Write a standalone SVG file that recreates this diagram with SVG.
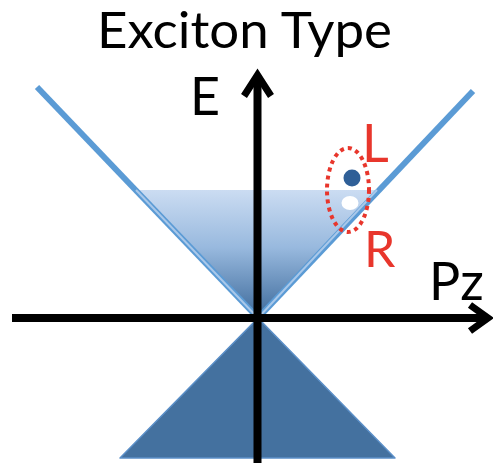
<svg xmlns="http://www.w3.org/2000/svg" width="493" height="463" viewBox="0 0 493 463">
  <defs>
    <linearGradient id="coneGrad" x1="0" y1="190" x2="0" y2="318" gradientUnits="userSpaceOnUse">
      <stop offset="0" stop-color="#cbdcf2"/>
      <stop offset="0.45" stop-color="#98b9de"/>
      <stop offset="1" stop-color="#3d6a9b"/>
    </linearGradient>
  </defs>
  <style>
    .lbl { font-family: Lato, "Open Sans", "Liberation Sans", sans-serif; fill: #000; }
    .red { font-family: Lato, "Open Sans", "Liberation Sans", sans-serif; fill: #e8362c; }
    .band { stroke: #5b9bd5; stroke-width: 6; stroke-linecap: butt; fill: none; }
    .axis { stroke: #000; stroke-width: 8; fill: none; }
    .head { stroke: #000; stroke-width: 7; fill: none; stroke-linejoin: miter; stroke-linecap: butt; }
  </style>
  <rect width="493" height="463" fill="#fff"/>

  <g id="title">
    <text class="lbl" x="97" y="48" font-size="50" textLength="295" lengthAdjust="spacingAndGlyphs">Exciton Type</text>
  </g>

  <g id="conduction-cone">
    <polygon points="136,190 377,190 258,318" fill="url(#coneGrad)"/>
    <line class="band" x1="37" y1="87" x2="258" y2="318"/>
    <line class="band" x1="473" y1="91" x2="258" y2="318"/>
    <line x1="136" y1="190" x2="258" y2="318" stroke="#a9c8ea" stroke-width="2"/>
    <line x1="377" y1="190" x2="258" y2="318" stroke="#a9c8ea" stroke-width="2"/>
  </g>

  <g id="valence-cone">
    <polygon points="258,318 120,458 395,458" fill="#44719f" stroke="#5b8fc8" stroke-width="1.5" stroke-linejoin="round"/>
  </g>

  <g id="axes">
    <line class="axis" x1="257.5" y1="76" x2="257.5" y2="463"/>
    <polyline class="head" points="244,96 257.5,75 271,96"/>
    <line class="axis" x1="12" y1="318" x2="486" y2="318"/>
    <polyline class="head" points="470,305 488,318 470,331"/>
  </g>

  <g id="axis-labels">
    <text class="lbl" x="190" y="115" font-size="52">E</text>
    <text class="lbl" x="429" y="300" font-size="52">Pz</text>
  </g>

  <g id="exciton">
    <circle cx="352" cy="178" r="8.5" fill="#2f5f97"/>
    <ellipse cx="350" cy="203" rx="8.5" ry="7" fill="#fff"/>
    <ellipse cx="348" cy="190" rx="21" ry="42" fill="none" stroke="#e8362c" stroke-width="4" stroke-dasharray="4 4"/>
    <text class="red" x="362" y="162" font-size="52">L</text>
    <text class="red" x="364" y="267" font-size="50">R</text>
  </g>
</svg>
